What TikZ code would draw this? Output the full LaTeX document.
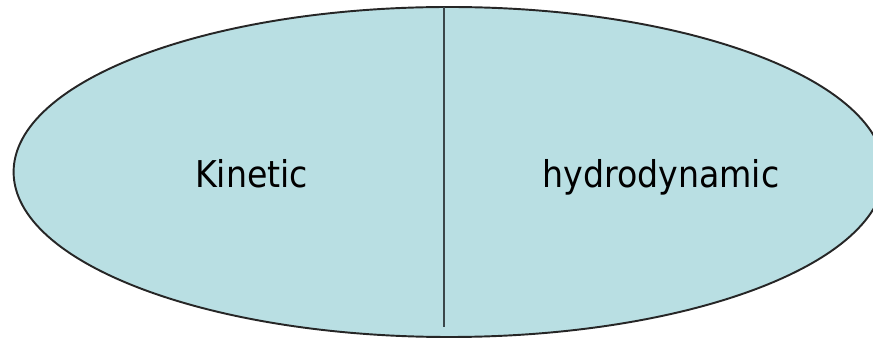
\documentclass[tikz,border=0pt]{standalone}
\usepackage{fontspec}
\setmainfont{DejaVu Sans Condensed}
\usepackage{tikz}
\usepackage{xcolor}
\usetikzlibrary{shapes.geometric}
\definecolor{myAqua}{RGB}{185,223,227}
\definecolor{myRule}{RGB}{58,70,74}

\begin{document}
\begin{tikzpicture}[
  disc/.style={ellipse, draw=black!85, fill=myAqua, line width=0.55pt,
               minimum width=8.708cm, minimum height=3.30cm, inner sep=0pt},
  word/.style={anchor=base, font=\fontsize{10.5}{12}\selectfont},
]
  \useasboundingbox (0,0) rectangle (8.73,3.38);
  \node[disc] (oval) at (4.49,1.66) {};
  \coordinate (splitTop) at (4.44,3.31);
  \coordinate (splitBot) at (4.44,0.11);
  \draw[myRule, line width=0.5pt] (splitTop) -- (splitBot);
  \node[word] (kinetic) at (2.515,1.50) {Kinetic};
  \node[word] (hydro) at (6.61,1.50) {hydrodynamic};
\end{tikzpicture}
\end{document}
